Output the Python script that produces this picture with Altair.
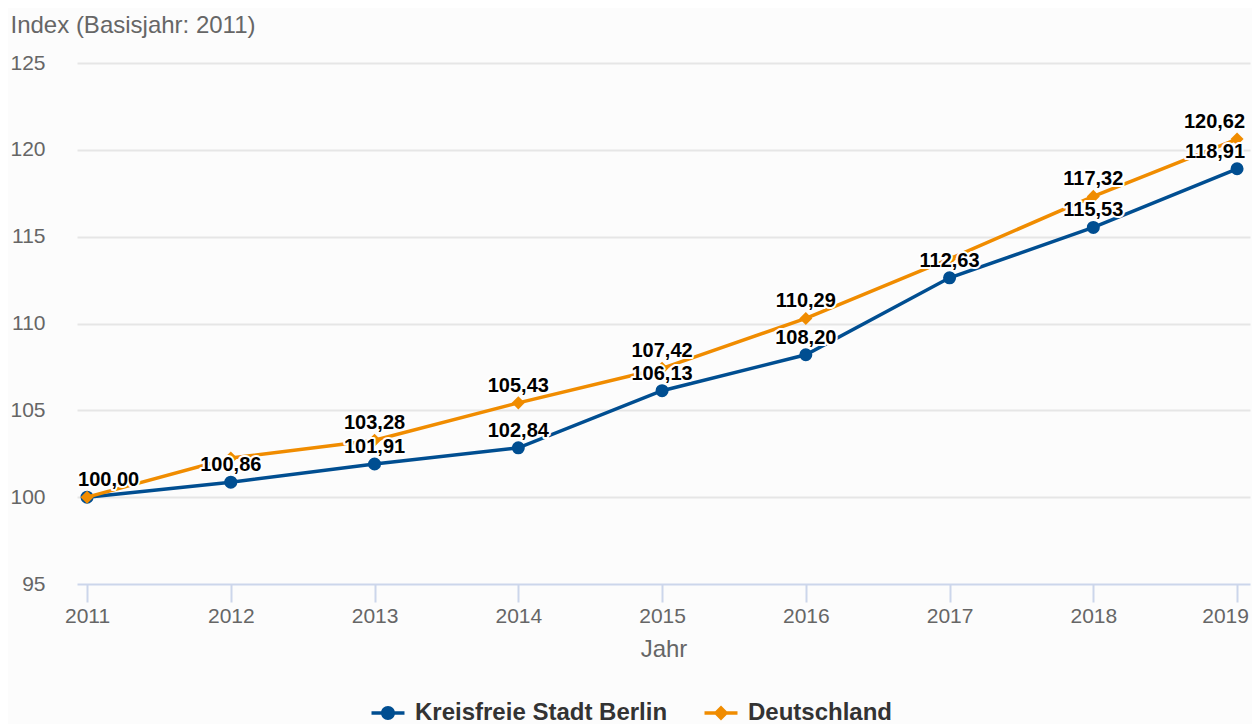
import altair as alt
import pandas as pd

# ---- data ----
years = [2011, 2012, 2013, 2014, 2015, 2016, 2017, 2018, 2019]
berlin = [100.00, 100.86, 101.91, 102.84, 106.13, 108.20, 112.63, 115.53, 118.91]
deutschland = [100.00, 102.25, 103.28, 105.43, 107.42, 110.29, 113.72, 117.32, 120.62]
berlin_label_shown = [True, True, True, True, True, True, True, True, True]
de_label_shown = [False, False, True, True, True, True, False, True, True]
series = ["Kreisfreie Stadt Berlin", "Deutschland"]
colors = ["#004e91", "#f08c00"]
y_ticks = [95, 100, 105, 110, 115, 120, 125]

FONT = "Liberation Sans"
GRAY = "#666666"


def fmt(v):
    return f"{v:.2f}".replace(".", ",")


rows = []
for i, yr in enumerate(years):
    rows.append({"Jahr": yr, "Reihe": series[0], "Wert": berlin[i],
                 "Label": fmt(berlin[i]) if berlin_label_shown[i] else ""})
for i, yr in enumerate(years):
    rows.append({"Jahr": yr, "Reihe": series[1], "Wert": deutschland[i],
                 "Label": fmt(deutschland[i]) if de_label_shown[i] else ""})
df = pd.DataFrame(rows)

x_enc = alt.X(
    "Jahr:Q",
    scale=alt.Scale(domain=[2010.93, 2019.09], nice=False, zero=False),
    axis=alt.Axis(
        values=years, format="d", title="Jahr", grid=False,
        domainColor="#ccd6eb", domainWidth=2,
        tickColor="#ccd6eb", tickWidth=2, tickSize=18,
        labelPadding=3, labelFont=FONT, labelFontSize=21, labelColor=GRAY,
        labelBaseline="top",
        labelOffset={"condition": {"test": "datum.value === 2019", "value": -12}, "value": 0},
        titleFont=FONT, titleFontSize=24, titleColor=GRAY, titleFontWeight="normal",
        titleY=65, titleBaseline="middle",
    ),
)
y_enc = alt.Y(
    "Wert:Q",
    scale=alt.Scale(domain=[95, 125], nice=False, zero=False),
    axis=alt.Axis(
        values=y_ticks, title="Index (Basisjahr: 2011)",
        titleAngle=0, titleAlign="left", titleBaseline="middle",
        titleX=-67, titleY=-38,
        titleFont=FONT, titleFontSize=24, titleFontWeight="normal", titleColor=GRAY,
        labelFont=FONT, labelFontSize=21, labelColor=GRAY, labelPadding=32,
        labelAlign="right", labelBaseline="middle",
        ticks=False, domain=False, grid=True, gridWidth=2,
        gridColor={"condition": {"test": "datum.value === 95", "value": "transparent"},
                   "value": "#e6e6e6"},
    ),
)

base = alt.Chart(df)


def series_layers(name, color, shape, size):
    sel = base.transform_filter(alt.datum.Reihe == name)
    line = sel.mark_line(color=color, strokeWidth=3.5).encode(x=x_enc, y=y_enc)
    pts = sel.mark_point(shape=shape, filled=True, color=color, size=size, opacity=1).encode(
        x=x_enc, y=y_enc)
    return [line, pts]


layers = []
layers += series_layers(series[0], colors[0], "circle", 170)
layers += series_layers(series[1], colors[1], "diamond", 170)

# labels kept inside the plot at the edges (like the original)
align_expr = alt.expr("datum.Jahr === 2011 ? 'left' : (datum.Jahr === 2019 ? 'right' : 'center')")
dx_expr = alt.expr("datum.Jahr === 2011 ? -9 : (datum.Jahr === 2019 ? 8 : 0)")

lab = base.transform_filter(alt.datum.Label != "")
halo = lab.mark_text(font=FONT, fontSize=20, fontWeight="bold", dy=-17,
                     align=align_expr, dx=dx_expr,
                     stroke="white", strokeWidth=4, strokeJoin="round",
                     fill="white", baseline="middle").encode(x=x_enc, y=y_enc, text="Label:N")
txt = lab.mark_text(font=FONT, fontSize=20, fontWeight="bold", dy=-17,
                    align=align_expr, dx=dx_expr,
                    color="black", baseline="middle").encode(x=x_enc, y=y_enc, text="Label:N")
layers += [halo, txt]

# legend (custom line+marker symbols)
path_b = ("M-2,-0.21H-0.83V0.21H-2Z M0.83,-0.21H2V0.21H0.83Z "
          "M-0.85,0A0.85,0.85 0 1,1 0.85,0A0.85,0.85 0 1,1 -0.85,0Z")
path_d = ("M-2,-0.21H-0.7V0.21H-2Z M0.7,-0.21H2V0.21H0.7Z "
          "M0,-0.9L0.9,0L0,0.9L-0.9,0Z")
legend = alt.Legend(
    title=None, orient="none", legendX=299, legendY=638,
    direction="horizontal", symbolSize=272, symbolStrokeWidth=0,
    labelOffset=15, columnPadding=36, padding=0, labelLimit=500,
    labelFont=FONT, labelFontSize=24, labelFontWeight="bold", labelColor="#333333",
)
dummy = base.transform_filter("false").mark_point(filled=True, opacity=1).encode(
    color=alt.Color("Reihe:N", scale=alt.Scale(domain=series, range=colors), legend=legend),
    shape=alt.Shape("Reihe:N", scale=alt.Scale(domain=series, range=[path_b, path_d]),
                    legend=legend),
)
layers.append(dummy)

chart = alt.layer(*layers).properties(
    width=1173, height=521,
    autosize=alt.AutoSizeParams(type="none"),
    padding={"left": 69, "top": 55, "right": 2, "bottom": 140},
    background="#fcfcfc",
).configure_view(stroke=None)

chart.save("out.html", embed_options={"renderer": "svg", "actions": False})
